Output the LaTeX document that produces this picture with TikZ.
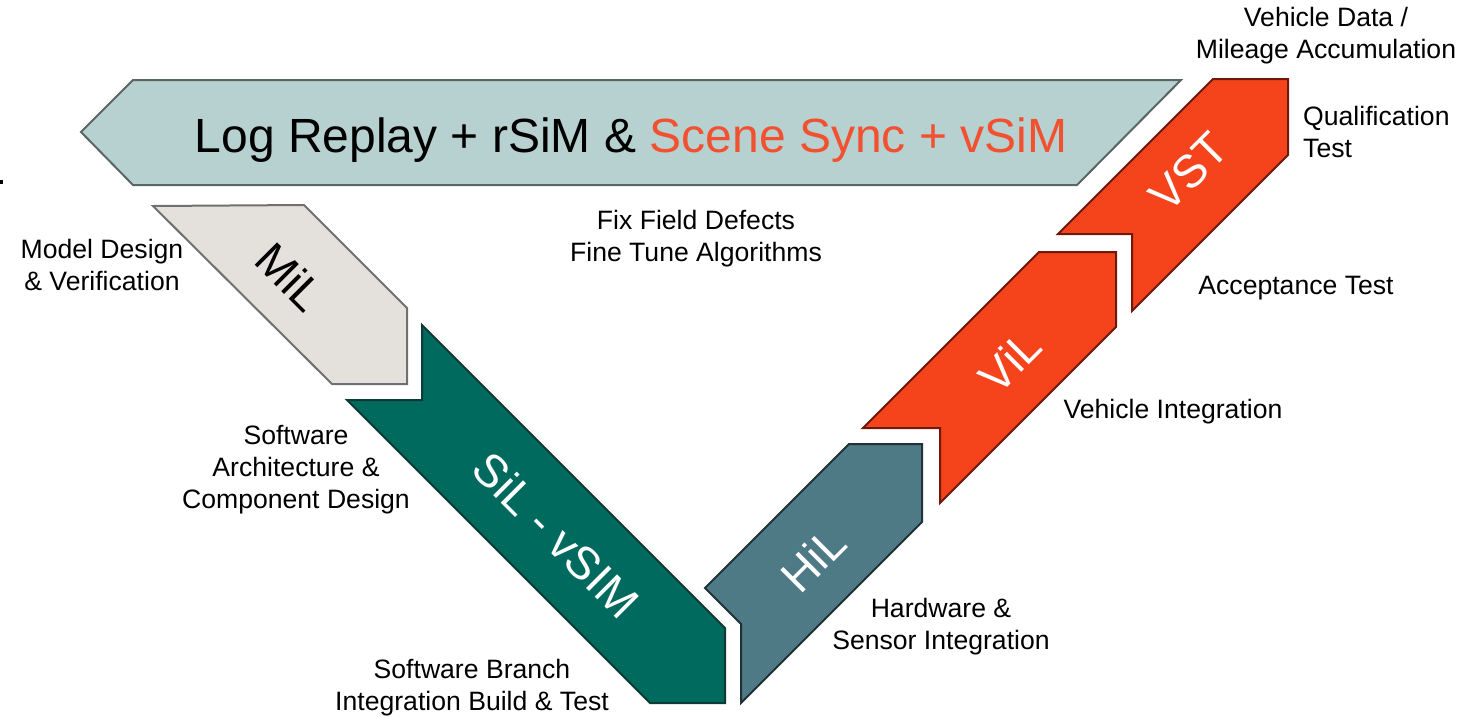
\documentclass[tikz,border=0pt]{standalone}
\usepackage{fontspec}
\setmainfont{Liberation Sans}
\definecolor{replayfill}{HTML}{B6D1CF}
\definecolor{replayline}{HTML}{5B6566}
\definecolor{milfill}{HTML}{E4E0DB}
\definecolor{milline}{HTML}{707070}
\definecolor{silfill}{HTML}{006A5E}
\definecolor{silline}{HTML}{0F3A35}
\definecolor{hilfill}{HTML}{4E7A86}
\definecolor{hilline}{HTML}{1E3238}
\definecolor{vfill}{HTML}{F5431B}
\definecolor{vline}{HTML}{6B1A0C}
\definecolor{accent}{HTML}{F2502F}
\tikzset{
  band/.style={line width=2pt, line join=miter},
  stage/.style={font=\fontsize{46}{50}\selectfont, inner sep=0pt},
  note/.style={font=\fontsize{26.6}{32}\selectfont, align=center, inner sep=0pt},
}
\begin{document}
\begin{tikzpicture}[x=1pt, y=-1pt]
\useasboundingbox (0,0) rectangle (1462,716);

% top banner: log replay arrow pointing left
\path[band, fill=replayfill, draw=replayline]
  (81,132) -- (133,80) -- (1181,80) -- (1077,185) -- (133,185) -- cycle;
\node[font=\fontsize{48}{52}\selectfont, inner sep=0pt, anchor=base] (replay) at (631,152)
  {Log Replay + rSiM \& \textcolor{accent}{Scene Sync + vSiM}};

% left leg of the V
\path[band, fill=milfill, draw=milline]
  (153,206) -- (304,205) -- (407,308) -- (407,384) -- (332,384) -- cycle;
\node[stage, rotate=-45] (mil) at (290,277) {MiL};

\path[band, fill=silfill, draw=silline]
  (422,325) -- (725,628) -- (725,703) -- (650,703) -- (347,400) -- (422,400) -- cycle;
\node[stage, rotate=-45, text=white] (sil) at (556,535) {SiL - vSIM};

% right leg of the V
\path[band, fill=hilfill, draw=hilline]
  (705,588) -- (849,444) -- (922,444) -- (922,522) -- (741,703) -- (741,624) -- cycle;
\node[stage, rotate=45, text=white] (hil) at (813,559) {HiL};

\path[band, fill=vfill, draw=vline]
  (863,428) -- (1039,252) -- (1116,252) -- (1116,327) -- (940,503) -- (940,428) -- cycle;
\node[stage, rotate=45, text=white] (vil) at (1010,361) {ViL};

\path[band, fill=vfill, draw=vline]
  (1058,234) -- (1213,79) -- (1288,79) -- (1288,155) -- (1132,311) -- (1132,234) -- cycle;
\node[stage, rotate=45, text=white] (vst) at (1189,172) {VST};

% stray mark at the left margin
\fill (0,180) rectangle (3,184);

% annotations
\node[note] (mileage) at (1326,36) {Vehicle Data /\\Mileage Accumulation};
\node[note, align=left, anchor=west] (qual) at (1303,132) {Qualification\\Test};
\node[note] (model) at (102,265) {Model Design\\\& Verification};
\node[note] (fix) at (696,239) {Fix Field Defects\\Fine Tune Algorithms};
\node[note] (accept) at (1296,288) {Acceptance Test};
\node[note] (vehint) at (1173,412) {Vehicle Integration};
\node[note] (swarch) at (296,470) {Software\\Architecture \&\\Component Design};
\node[note] (hwint) at (941,627) {Hardware \&\\Sensor Integration};
\node[note] (branch) at (472,688) {Software Branch\\Integration Build \& Test};
\end{tikzpicture}
\end{document}
